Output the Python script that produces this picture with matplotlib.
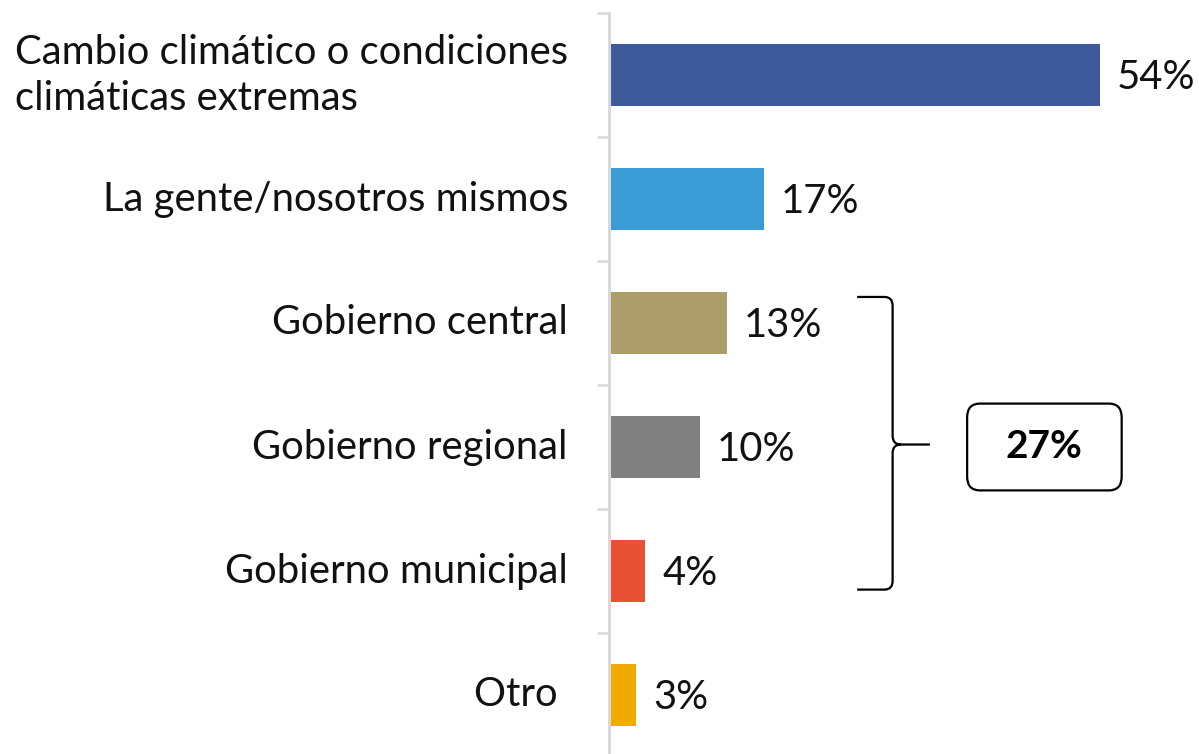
import matplotlib
matplotlib.use("Agg")
import matplotlib.pyplot as plt
from matplotlib.path import Path
from matplotlib.patches import PathPatch, FancyBboxPatch

categories = ["Cambio climático o condiciones\nclimáticas extremas",
              "La gente/nosotros mismos",
              "Gobierno central",
              "Gobierno regional",
              "Gobierno municipal",
              "Otro "]
values = [54, 17, 13, 10, 4, 3]
value_labels = ["54%", "17%", "13%", "10%", "4%", "3%"]
colors = ["#3F5A9A", "#3A9BD5", "#AB9E6A", "#808080", "#E95137", "#F0AB00"]
group_total = "27%"

plt.rcParams['font.family'] = ['Lato', 'DejaVu Sans']
W, H = 1199, 754
fig = plt.figure(figsize=(W / 100, H / 100), dpi=100)
ax = fig.add_axes([609 / W, 1 - 757 / H, (W - 609) / W, (757 - 13) / H])

n = len(categories)
pos = list(range(n))
ax.barh(pos, values, height=0.5, color=colors, zorder=2)
ax.set_ylim(n - 0.5, -0.5)
ax.set_xlim(0, (W - 609) / 9.09)

for s in ["top", "right", "bottom"]:
    ax.spines[s].set_visible(False)
ax.spines["left"].set_color("#D9D9D9")
ax.spines["left"].set_linewidth(2.2)
ax.set_xticks([])
ax.set_yticks([i - 0.5 for i in range(n + 1)])
ax.set_yticklabels([])
ax.tick_params(axis="y", length=9, width=1.8, color="#D9D9D9")

fs = 28.8
for i, (c, v, lab) in enumerate(zip(categories, values, value_labels)):
    ax.text(-41 / 9.09, i, c, ha="right", va="center", multialignment="left",
            fontsize=fs, color="#111111", linespacing=1.3)
    ax.text(v + 17 / 9.09, i + 0.02, lab, ha="left", va="center", fontsize=fs, color="#111111")

# bracket
x0, x1, xm = 27.3, 31.2, 35.3
yt, yb, ym = 1.79, 4.15, 2.98
rx, ry = 0.9, 0.07
verts = [(x0, yt), (x1 - rx, yt), (x1, yt), (x1, yt + ry),
         (x1, ym - ry), (x1, ym), (x1 + rx, ym), (xm, ym),
         (x1 + rx, ym), (x1, ym), (x1, ym + ry),
         (x1, yb - ry), (x1, yb), (x1 - rx, yb), (x0, yb)]
codes = [Path.MOVETO, Path.LINETO, Path.CURVE3, Path.CURVE3,
         Path.LINETO, Path.CURVE3, Path.CURVE3, Path.LINETO,
         Path.MOVETO, Path.CURVE3, Path.CURVE3,
         Path.LINETO, Path.CURVE3, Path.CURVE3, Path.LINETO]
ax.add_patch(PathPatch(Path(verts, codes), fill=False, lw=1.6, color="black", clip_on=False))

box = FancyBboxPatch((39.4, 2.65), 17.0, 0.70, boxstyle="round,pad=0,rounding_size=1.4",
                     mutation_aspect=0.08, fill=False, lw=1.6, ec="black", clip_on=False)
ax.add_patch(box)
ax.text(47.9, 3.0, group_total, ha="center", va="center", fontsize=28, fontweight="bold", color="black")

fig.savefig("out.png", dpi=100)
